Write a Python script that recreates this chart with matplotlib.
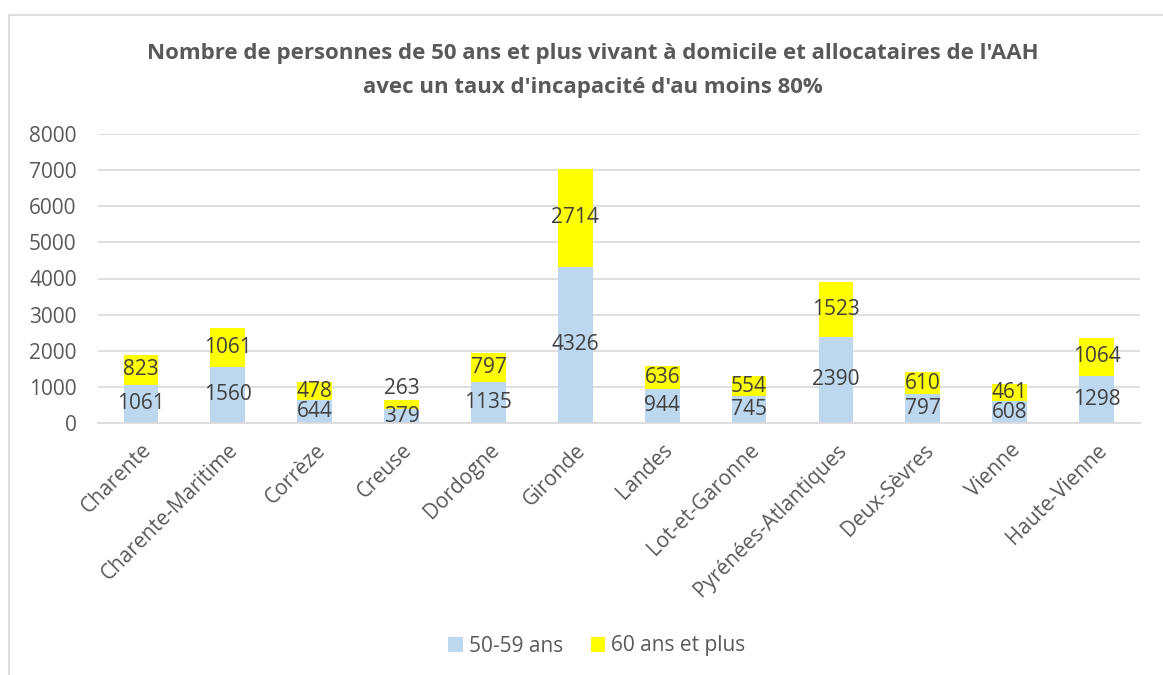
import matplotlib.pyplot as plt
import numpy as np

plt.rcParams['font.family'] = ['Open Sans', 'DejaVu Sans']

departements = ["Charente", "Charente-Maritime", "Corrèze", "Creuse", "Dordogne",
                "Gironde", "Landes", "Lot-et-Garonne", "Pyrénées-Atlantiques",
                "Deux-Sèvres", "Vienne", "Haute-Vienne"]
ans_50_59 = [1061, 1560, 644, 379, 1135, 4326, 944, 745, 2390, 797, 608, 1298]
ans_60_plus = [823, 1061, 478, 263, 797, 2714, 636, 554, 1523, 610, 461, 1064]

blue = "#bdd7ee"
yellow = "#ffff00"
grey_txt = "#595959"
lbl_txt = "#404040"

fig = plt.figure(figsize=(11.63, 6.75), dpi=100)
ax = fig.add_axes([97.5 / 1163, 1 - 423 / 675, (1140 - 97.5) / 1163, (423 - 134) / 675])

x = np.arange(len(departements))
w = 0.4
ax.bar(x, ans_50_59, width=w, color=blue, label="50-59 ans", zorder=2)
ax.bar(x, ans_60_plus, width=w, bottom=ans_50_59, color=yellow, label="60 ans et plus", zorder=2)

for xi, a, b in zip(x, ans_50_59, ans_60_plus):
    ax.text(xi, a / 2, str(a), ha='center', va='center', fontsize=15, color=lbl_txt, zorder=3)
    if b < 300:
        yb = a + b + 320
    else:
        yb = a + b / 2
    ax.text(xi, yb, str(b), ha='center', va='center', fontsize=15, color=lbl_txt, zorder=3)

ax.set_xlim(-0.5, len(departements) - 0.5)
ax.set_ylim(0, 8000)
ax.set_yticks(range(0, 8001, 1000))
ax.yaxis.grid(True, color="#d9d9d9", linewidth=1.2, zorder=0)
ax.set_axisbelow(True)
for s in ['top', 'right', 'left']:
    ax.spines[s].set_visible(False)
ax.spines['bottom'].set_color("#d9d9d9")
ax.spines['bottom'].set_linewidth(1.2)
ax.tick_params(axis='both', length=0, labelsize=15, colors=grey_txt)
ax.tick_params(axis='y', pad=15)
ax.set_xticks(x)
ax.set_xticklabels(departements, rotation=45, ha='right', rotation_mode='anchor')
ax.tick_params(axis='x', pad=12)

fig.text(593 / 1163, 1 - 53 / 675,
         "Nombre de personnes de 50 ans et plus vivant à domicile et allocataires de l'AAH",
         ha='center', va='center', fontsize=16, fontweight='bold', color=grey_txt)
fig.text(593 / 1163, 1 - 88 / 675, "avec un taux d'incapacité d'au moins 80%",
         ha='center', va='center', fontsize=16, fontweight='bold', color=grey_txt)

fig.legend(loc='center', bbox_to_anchor=(597 / 1163, 1 - 646 / 675), ncol=2, frameon=False,
           fontsize=15, labelcolor=grey_txt, handlelength=0.7, handleheight=0.7,
           handletextpad=0.3, columnspacing=1.3)

# chart border
fig.add_artist(plt.Rectangle((9 / 1163, -0.01), 1.0, 1 - 15 / 675 + 0.01,
                             transform=fig.transFigure, fill=False,
                             edgecolor="#d9d9d9", linewidth=1.2))

fig.savefig("out.png", dpi=100)
